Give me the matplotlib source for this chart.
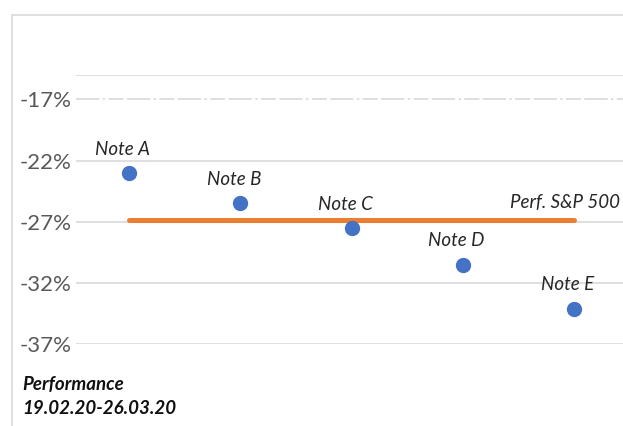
import matplotlib.pyplot as plt
import matplotlib.patches as mpatches

plt.rcParams['font.family'] = ['Lato', 'DejaVu Sans']

# data
notes = ['Note A', 'Note B', 'Note C', 'Note D', 'Note E']
perf = [-23.0, -25.5, -27.5, -30.5, -34.1]
sp500 = -26.9
yticks = [-37, -32, -27, -22, -17]
ytick_labels = ['-37%', '-32%', '-27%', '-22%', '-17%']

BLUE = '#4472C4'
ORANGE = '#ED7D31'
GRID = '#D9D9D9'

fig = plt.figure(figsize=(6.23, 4.26), dpi=100)
ax = fig.add_axes([0.122, 0.1925, 0.878, 0.6315])

x = list(range(1, len(notes) + 1))

# gridlines
for t in yticks:
    if t == -17:
        ax.axhline(t, color=GRID, lw=1.2, ls=(0, (14, 2, 1.5, 2, 9, 2)), zorder=0)
    else:
        ax.axhline(t, color=GRID, lw=1.2, zorder=0)
ax.axhline(-15, color=GRID, lw=1.2, zorder=0)

# S&P 500 line
ax.plot([x[0], x[-1]], [sp500, sp500], color=ORANGE, lw=3.6,
        solid_capstyle='round', zorder=2)
ax.annotate('Perf. S&P 500', (x[-1], sp500), xytext=(33, 7),
            textcoords='offset points', ha='right', va='bottom',
            fontsize=13.5, style='italic', color='#262626')

# notes
ax.plot(x, perf, 'o', color=BLUE, ms=10, zorder=3)
for xi, yi, lab in zip(x, perf, notes):
    ax.annotate(lab, (xi, yi), xytext=(-4.5, 11), textcoords='offset points',
                ha='center', va='bottom', fontsize=13.5, style='italic',
                color='#262626')

ax.set_ylim(-37, -15)
ax.set_xlim(0.523, 5.44)
ax.set_yticks(yticks)
ax.set_yticklabels(ytick_labels, fontsize=16, color='#595959')
ax.tick_params(axis='y', length=0, pad=3)
ax.set_xticks([])
for s in ax.spines.values():
    s.set_visible(False)
ax.patch.set_alpha(0)

# chart border (cropped on right and bottom)
fig.patches.append(mpatches.Rectangle((12 / 623, -0.1), 1.2, 1.1 - 15 / 426,
                                      transform=fig.transFigure, fill=False,
                                      edgecolor=GRID, lw=1.2))

fig.text(22 / 623, 1 - 384 / 426, 'Performance', fontsize=13.5,
         style='italic', weight='bold', va='center', color='#111111')
fig.text(22 / 623, 1 - 409 / 426, '19.02.20-26.03.20', fontsize=13.5,
         style='italic', weight='bold', va='center', color='#111111')

fig.savefig('out.png', dpi=100)
